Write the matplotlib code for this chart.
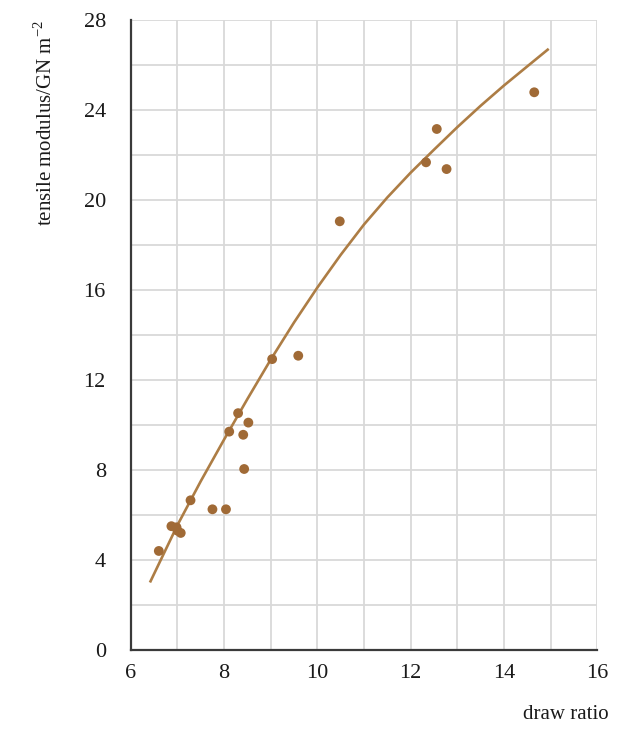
import matplotlib
matplotlib.use("Agg")
import matplotlib.pyplot as plt

# measured points (draw ratio, tensile modulus / GN m^-2)
draw_ratio = [6.60, 6.87, 6.98, 7.07, 7.00, 7.28, 7.75, 8.04, 8.11, 8.30,
              8.52, 8.41, 8.43, 9.03, 9.59, 10.48, 12.56, 12.33, 12.77, 14.65]
modulus = [4.40, 5.50, 5.45, 5.20, 5.30, 6.65, 6.25, 6.25, 9.70, 10.52,
           10.10, 9.56, 8.04, 12.92, 13.07, 19.04, 23.14, 21.66, 21.36, 24.77]

# hand-drawn trend curve
curve_x = [6.41, 7.0, 7.5, 8.0, 8.5, 9.0, 9.5, 10.0, 10.5, 11.0, 11.5,
           12.0, 12.5, 13.0, 13.5, 14.0, 14.5, 14.96]
curve_y = [3.00, 5.55, 7.50, 9.35, 11.15, 12.90, 14.55, 16.10, 17.55, 18.90,
           20.10, 21.20, 22.22, 23.22, 24.17, 25.07, 25.92, 26.70]

x_ticks = [6, 8, 10, 12, 14, 16]
y_ticks = [0, 4, 8, 12, 16, 20, 24, 28]

INK = "#1a1a1a"
SPINE = "#3a3a3a"
GRID = "#d9d9d9"
LINE = "#ad7d45"
DOT = "#a06a36"

plt.rcParams["font.family"] = ["Liberation Serif", "DejaVu Serif"]
plt.rcParams["mathtext.fontset"] = "custom"
plt.rcParams["mathtext.rm"] = "Liberation Serif"

fig = plt.figure(figsize=(6.26, 7.35), dpi=100)
ax = fig.add_axes([0.209, 0.1156, 0.745, 0.8578])

ax.set_xlim(6, 16)
ax.set_ylim(0, 28)
ax.set_xticks(x_ticks)
ax.set_xticks(range(7, 17, 2), minor=True)
ax.set_yticks(y_ticks)
ax.set_yticks(range(2, 28, 4), minor=True)
ax.grid(True, which="both", color=GRID, linewidth=1.3, zorder=0)
ax.tick_params(which="both", length=0)
ax.tick_params(axis="x", pad=10, labelsize=16, colors=INK)
ax.tick_params(axis="y", pad=18, labelsize=16, colors=INK)

for s in ("top", "right"):
    ax.spines[s].set_visible(False)
for s in ("left", "bottom"):
    ax.spines[s].set_color(SPINE)
    ax.spines[s].set_linewidth(1.6)

ax.plot(curve_x, curve_y, color=LINE, linewidth=1.9, zorder=3,
        solid_capstyle="butt", solid_joinstyle="round")
ax.scatter(draw_ratio, modulus, s=50, color=DOT, edgecolors="none", zorder=4)

fig.text(0.072, 0.973, "tensile modulus/GN m$^{-2}$", rotation=90,
         ha="center", va="top", fontsize=15, color=INK)
fig.text(0.972, 0.028, "draw ratio", ha="right", va="center",
         fontsize=15, color=INK)

fig.savefig("out.png", dpi=100, facecolor="white")
